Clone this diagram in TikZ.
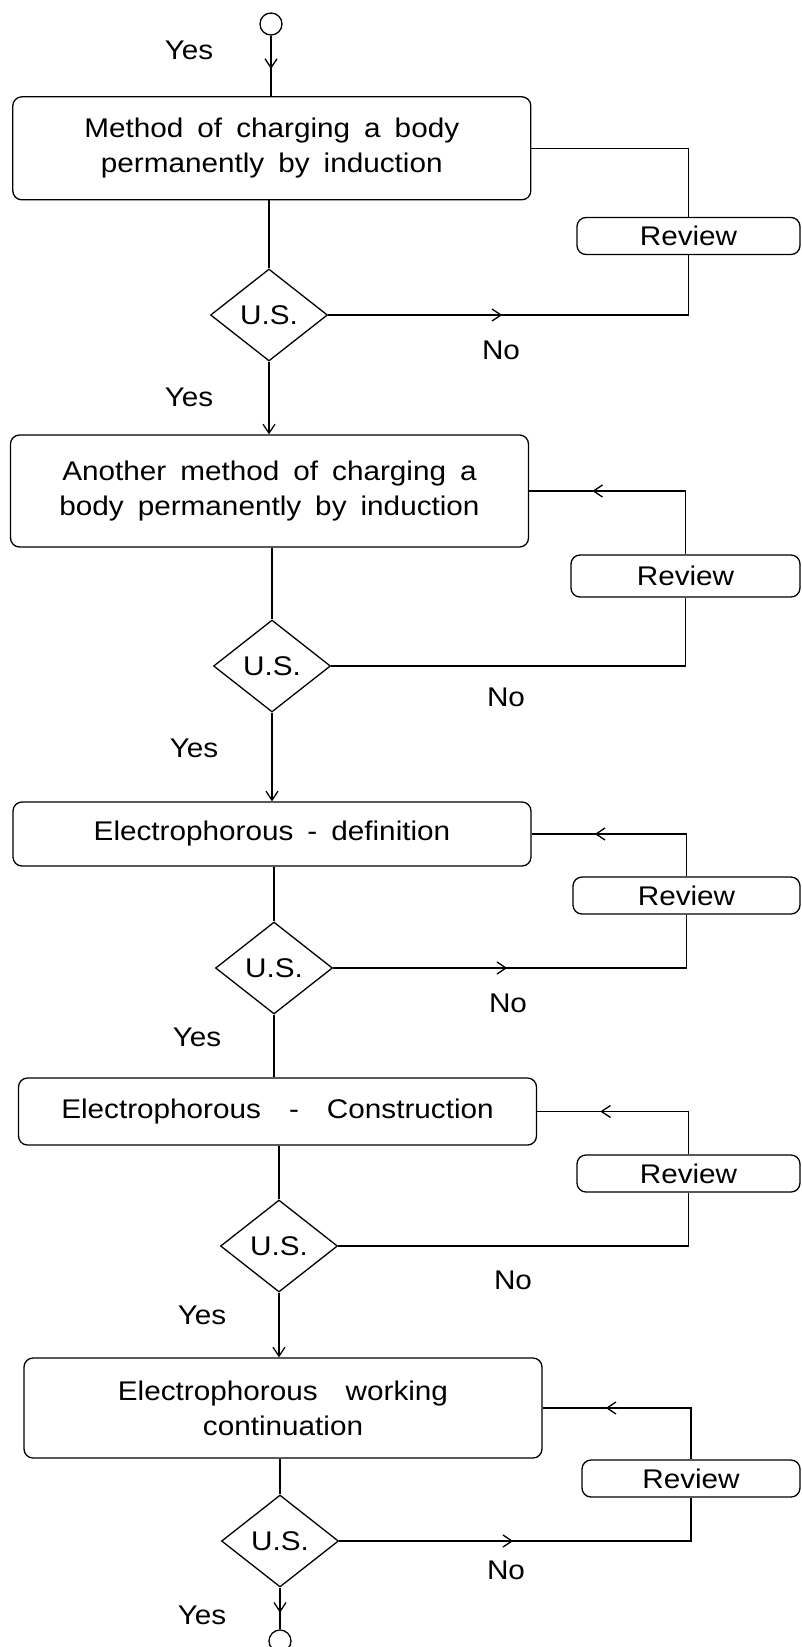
\documentclass[tikz,border=0pt]{standalone}
\usepackage{fontspec}
\setmainfont{Liberation Sans}[FakeStretch=1.1]
\newfontfamily\boxfont{Liberation Sans}[FakeStretch=1.1, WordSpace=1.7]
\usetikzlibrary{shapes.geometric,arrows.meta,decorations.markings}

\tikzset{
	every node/.style={font=\fontsize{27}{35}\selectfont},
	stepbox/.style={draw, rounded corners=9pt, minimum width=518pt, align=center, inner sep=0pt,
		font=\boxfont\fontsize{27}{35}\selectfont},
	usbox/.style={draw, diamond, minimum width=117pt, minimum height=92pt, inner sep=0pt},
	revbox/.style={draw, rounded corners=9pt, minimum height=37pt, inner sep=0pt},
	endcircle/.style={draw, circle, minimum size=22pt, inner sep=0pt},
	midarrow/.style={postaction={decorate}, decoration={markings, mark=at position #1 with {\arrow{>}}}},
	outarrow/.style={postaction={decorate}, decoration={markings, mark=at position 174pt with {\arrow{>}}}},
	backarrow/.style={postaction={decorate}, decoration={markings, mark=at position 74pt with {\arrow{<}}}}
}

\begin{document}
\begin{tikzpicture}[x=1pt, y=-1pt, line width=1.3pt, >={Straight Barb[length=9pt,width=12pt]}]
	\useasboundingbox (0,0) rectangle (801,1647);

	% main line
	\node[endcircle] (start) at (271,24) {};
	\node[stepbox, minimum height=103pt] (b1) at (271.8,148.3) {Method of charging a body\\permanently by induction};
	\node[usbox] (d1) at (269,315) {U.S.};
	\node[stepbox, minimum height=112pt] (b2) at (269.5,491) {Another method of charging a\\body permanently by induction};
	\node[usbox] (d2) at (272,666) {U.S.};
	\node[stepbox, minimum height=64pt] (b3) at (272,834) {Electrophorous - definition};
	\node[usbox] (d3) at (274,968) {U.S.};
	\node[stepbox, minimum height=67pt] (b4) at (277.5,1111.5) {Electrophorous\ \ -\ \ Construction};
	\node[usbox] (d4) at (279,1246) {U.S.};
	\node[stepbox, minimum height=100pt] (b5) at (283,1408) {Electrophorous\ \ working\\continuation};
	\node[usbox] (d5) at (280,1541) {U.S.};
	\node[endcircle] (stop) at (280,1641) {};

	% review boxes
	\node[revbox, minimum width=223pt] (r1) at (688.5,236) {Review};
	\node[revbox, minimum width=229pt, minimum height=42pt] (r2) at (685.5,576) {Review};
	\node[revbox, minimum width=227pt] (r3) at (686.5,895.5) {Review};
	\node[revbox, minimum width=223pt] (r4) at (688.5,1173.5) {Review};
	\node[revbox, minimum width=218pt] (r5) at (691,1478.5) {Review};

	\draw[midarrow=.55] (start.south) -- (start.south |- b1.north);
	\draw (b1.south -| d1.north) -- (d1.north);
	\draw[->] (d1.south) -- (d1.south |- b2.north);
	\draw (b2.south -| d2.north) -- (d2.north);
	\draw[->] (d2.south) -- (d2.south |- b3.north);
	\draw (b3.south -| d3.north) -- (d3.north);
	\draw (d3.south) -- (d3.south |- b4.north);
	\draw (b4.south -| d4.north) -- (d4.north);
	\draw[->] (d4.south) -- (d4.south |- b5.north);
	\draw (b5.south -| d5.north) -- (d5.north);
	\draw[midarrow=.6] (d5.south) -- (stop.north);

	% loops
	\draw (b1.east) -| (r1.north);
	\draw[outarrow] (d1.east) -| (r1.south);
	\draw[backarrow] (b2.east) -| (r2.north);
	\draw (d2.east) -| (r2.south);
	\draw[backarrow] (b3.east) -| (r3.north);
	\draw[outarrow] (d3.east) -| (r3.south);
	\draw[backarrow] (b4.east) -| (r4.north);
	\draw (d4.east) -| (r4.south);
	\draw[backarrow] (b5.east) -| (r5.north);
	\draw[outarrow] (d5.east) -| (r5.south);

	% labels
	\node (yes0) at (189,50) {Yes};
	\node (yes1) at (189,397) {Yes};
	\node (yes2) at (194,748) {Yes};
	\node (yes3) at (197,1037) {Yes};
	\node (yes4) at (202,1315) {Yes};
	\node (yes5) at (202,1615) {Yes};
	\node (no1) at (501,350) {No};
	\node (no2) at (506,697) {No};
	\node (no3) at (508,1003) {No};
	\node (no4) at (513,1280) {No};
	\node (no5) at (506,1570) {No};
\end{tikzpicture}
\end{document}
